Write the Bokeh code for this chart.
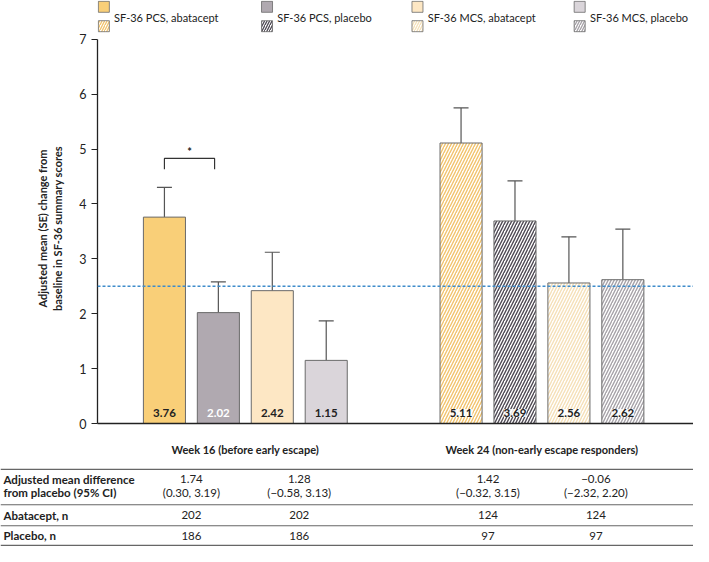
from bokeh.plotting import figure
from bokeh.models import Range1d, FixedTicker, Span, Whisker, TeeHead, ColumnDataSource
from bokeh.embed import file_html
from bokeh.resources import INLINE
from bokeh.core.properties import value

# ---------------- data ----------------
series = ["SF-36 PCS, abatacept", "SF-36 PCS, placebo", "SF-36 MCS, abatacept", "SF-36 MCS, placebo"]
groups = ["Week 16 (before early escape)", "Week 24 (non-early escape responders)"]
week16_mean = [3.76, 2.02, 2.42, 1.15]
week16_se = [0.54, 0.56, 0.70, 0.72]
week24_mean = [5.11, 3.69, 2.56, 2.62]
week24_se = [0.64, 0.73, 0.84, 0.92]
mcid = 2.5
y_ticks = [0, 1, 2, 3, 4, 5, 6, 7]

row_labels = ["Adjusted mean difference", "from placebo (95% CI)", "Abatacept, n", "Placebo, n"]
diff_est = ["1.74", "1.28", "1.42", "\u22120.06"]
diff_ci = ["(0.30, 3.19)", "(\u22120.58, 3.13)", "(\u22120.32, 3.15)", "(\u22122.32, 2.20)"]
n_abatacept = ["202", "202", "124", "124"]
n_placebo = ["186", "186", "97", "97"]

# ---------------- style / layout ----------------
FONT = value("Lato")
solid_colors = ["#F9CF78", "#B0A9B0", "#FDE7C4", "#DAD5DA"]
hatch_colors = ["#F2C36C", "#4E4953", "#F5E0B8", "#A6A2A8"]
label_colors16 = ["#222222", "#FFFFFF", "#222222", "#222222"]
outline = "#6a6a6a"

W = 693
LEFT = 97
LH = 33           # legend strip height
FRAME_H = 390     # chart frame height
BOT = 38          # bottom axis panel of chart
CH = FRAME_H + BOT
TH = 85           # table height
PX_PER_Y = 54.89
y_top = FRAME_H / PX_PER_Y
x_lo, x_hi = -1.241, 9.81
units_per_px = (x_hi - x_lo) / (W - LEFT)

gap = 1.5
pos16 = [i for i in range(4)]
pos24 = [4 + gap + i for i in range(4)]
centers = [sum(pos16) / 4, sum(pos24) / 4]
bar_w = 0.78


def blank(fig):
    fig.outline_line_color = None
    fig.xgrid.visible = False
    fig.ygrid.visible = False
    fig.background_fill_color = "white"
    fig.border_fill_color = "white"


# ---------------- legend strip ----------------
lg = figure(width=W, height=LH, x_range=Range1d(x_lo, x_hi), y_range=Range1d(LH, 0),
            output_backend="svg", toolbar_location=None, title=None,
            x_axis_location=None, y_axis_location=None,
            min_border_left=LEFT, min_border_right=0, min_border_top=0, min_border_bottom=0)
blank(lg)


def ref_x(px):
    return (px - 167.5) / 55.2


leg_left = [100, 267, 421, 587]
for i, name in enumerate(series):
    cx = ref_x(leg_left[i] + 5.5)
    lg.scatter(x=[cx], y=[6.3], marker="square", size=11, fill_color=solid_colors[i],
               line_color=outline, line_width=0.8)
    lg.scatter(x=[cx], y=[25.7], marker="square", size=11, fill_color="white",
               hatch_pattern="/", hatch_color=hatch_colors[i], hatch_scale=5, hatch_weight=1.3,
               line_color=outline, line_width=0.8)
    lg.text(x=[ref_x(leg_left[i] + 16)], y=[16.5], text=[name], text_font=FONT,
            text_font_size="11px", text_align="left", text_baseline="middle", text_color="#222222")

# ---------------- chart ----------------
p = figure(width=W, height=CH, x_range=Range1d(x_lo, x_hi), y_range=Range1d(0, y_top),
           output_backend="svg", toolbar_location=None, title=None,
           min_border_left=LEFT, min_border_right=0, min_border_top=0, min_border_bottom=BOT)
blank(p)

yax = p.yaxis[0]
yax.ticker = FixedTicker(ticks=y_ticks)
yax.bounds = (0, 7)
yax.minor_tick_line_color = None
yax.major_tick_in = 0
yax.major_tick_out = 6
yax.major_label_standoff = 5
yax.major_label_text_font = "Lato"
yax.major_label_text_font_size = "12.5px"
yax.major_label_text_color = "#222222"
yax.axis_line_color = "#222222"
yax.major_tick_line_color = "#222222"
yax.axis_line_width = 1.3
yax.axis_label = "Adjusted mean (SE) change from\nbaseline in SF-36 summary scores"
yax.axis_label_text_font = "Lato"
yax.axis_label_text_font_style = "bold"
yax.axis_label_text_font_size = "11px"
yax.axis_label_text_color = "#222222"
yax.axis_label_standoff = 12

xax = p.xaxis[0]
xax.ticker = FixedTicker(ticks=centers)
xax.major_label_overrides = {centers[0]: groups[0], centers[1]: groups[1]}
xax.major_tick_in = 0
xax.major_tick_out = 0
xax.minor_tick_line_color = None
xax.major_label_standoff = 19
xax.major_label_text_font = "Lato"
xax.major_label_text_font_style = "bold"
xax.major_label_text_font_size = "11px"
xax.major_label_text_color = "#222222"
xax.axis_line_color = "#222222"
xax.axis_line_width = 1.3

# MCID dotted line
p.add_layout(Span(location=mcid, dimension="width", line_color="#3E8CCB",
                  line_dash="3 2", line_width=1.6))

src16 = ColumnDataSource(dict(x=pos16, top=week16_mean, color=solid_colors,
                              upper=[m + s for m, s in zip(week16_mean, week16_se)],
                              txt=["%.2f" % v for v in week16_mean], tc=label_colors16))
p.vbar(x="x", top="top", bottom=0, width=bar_w, source=src16, fill_color="color",
       line_color=outline, line_width=1)
src24 = ColumnDataSource(dict(x=pos24, top=week24_mean, hc=hatch_colors,
                              upper=[m + s for m, s in zip(week24_mean, week24_se)],
                              txt=["%.2f" % v for v in week24_mean]))
p.vbar(x="x", top="top", bottom=0, width=bar_w, source=src24, fill_color="white",
       hatch_pattern="/", hatch_color="hc", hatch_scale=6, hatch_weight=1.4,
       line_color=outline, line_width=1)

for src in (src16, src24):
    p.add_layout(Whisker(source=src, base="x", lower="top", upper="upper", dimension="height",
                         line_color="#555555", line_width=1.2,
                         upper_head=TeeHead(size=15, line_color="#555555", line_width=1.2),
                         lower_head=None))

p.text(x="x", y=0, text="txt", source=src16, text_color="tc", text_font=FONT,
       text_font_style="bold", text_font_size="11.5px", text_align="center",
       text_baseline="middle", y_offset=-10.5)
p.text(x="x", y=0, text="txt", source=src24, text_color="#222222", text_font=FONT,
       text_font_style="bold", text_font_size="11.5px", text_align="center",
       text_baseline="middle", y_offset=-10.5, background_fill_color="white",
       background_fill_alpha=0.85)

# significance bracket
b_top = max(src16.data["upper"][0], src16.data["upper"][1]) + 0.53
b_bot = b_top - 0.2
bx1, bx2 = pos16[0], pos16[1] - 0.07
p.line(x=[bx1, bx1, bx2, bx2], y=[b_bot, b_top, b_top, b_bot], line_color="#333333", line_width=1.2)
p.text(x=[(bx1 + bx2) / 2], y=[b_top], text=["*"], text_font=FONT, text_font_style="bold",
       text_font_size="11px", text_align="center", text_baseline="bottom", text_color="#222222")

# ---------------- table ----------------
t_lo = x_lo - LEFT * units_per_px
t = figure(width=W, height=TH, x_range=Range1d(t_lo, x_hi), y_range=Range1d(TH, 0),
           output_backend="svg", toolbar_location=None, title=None,
           x_axis_location=None, y_axis_location=None, min_border=0)
blank(t)

for ly, lw in zip([7.9, 43.2, 64.3, 84.0], [1.4, 1.1, 1.1, 1.4]):
    t.add_layout(Span(location=ly, dimension="width", line_color="#666666", line_width=lw))

row_y = [17.9, 31.3, 53.9, 74.3]
t.text(x=[t_lo + 3 * units_per_px] * 4, y=row_y, text=row_labels, text_font=FONT,
       text_font_style="bold", text_font_size="11.5px", text_align="left",
       text_baseline="middle", text_color="#222222")

col_x = [(pos16[0] + pos16[1]) / 2, (pos16[2] + pos16[3]) / 2,
         (pos24[0] + pos24[1]) / 2, (pos24[2] + pos24[3]) / 2]
for vals, yy in [(diff_est, row_y[0]), (diff_ci, row_y[1]), (n_abatacept, row_y[2]), (n_placebo, row_y[3])]:
    t.text(x=col_x, y=[yy] * 4, text=vals, text_font=FONT, text_font_size="11.5px",
           text_align="center", text_baseline="middle", text_color="#222222")

open("out.html", "w").write(file_html([lg, p, t], INLINE))
